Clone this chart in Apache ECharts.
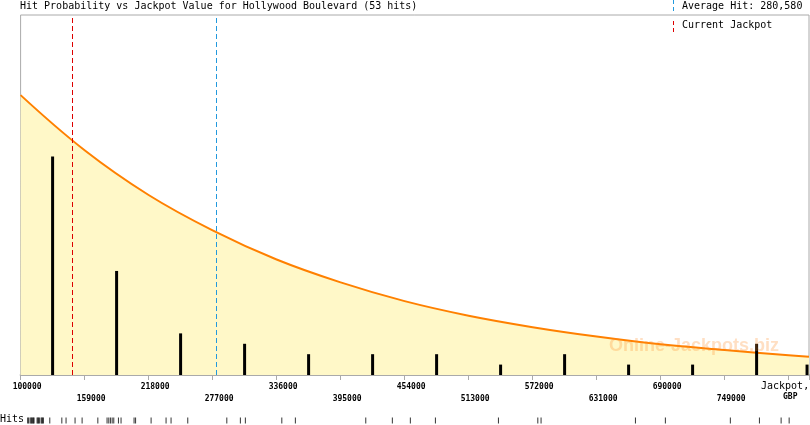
<!DOCTYPE html>
<html>
<head>
<meta charset="utf-8">
<script src="https://cdn.jsdelivr.net/npm/echarts@6/dist/echarts.min.js"></script>
<style>html,body{margin:0;padding:0;background:#fff;}#c{width:810px;height:425px;}</style>
</head>
<body>
<div id="c"></div>
<script>
// ---- data ----
var titleText = 'Hit Probability vs Jackpot Value for Hollywood Boulevard (53 hits)';
var averageHit = 280580;
var currentJackpot = 147800;
var tickStart = 100000;
var tickStep = 59000;
var axisMax = 826800;

// histogram bins (bar centre value) and number of hits per bin
var binCenters = [129500, 188500, 247500, 306500, 365500, 424500, 483500, 542500, 601500, 660500, 719500, 778500, 825000];
var hitCounts  = [21, 10, 4, 3, 2, 2, 2, 1, 2, 1, 1, 3, 1];

// probability curve (in bar units) read at tick positions
var curveX = [100000, 159000, 218000, 277000, 336000, 395000, 454000, 513000, 572000, 631000, 690000, 749000, 808000, 826800];
var curveY = [26.9, 21.6, 17.3, 13.9, 11.1, 8.9, 7.1, 5.7, 4.6, 3.7, 2.95, 2.4, 1.9, 1.75];

// individual hit values (rug)
var hitValues = [106500, 107400, 108800, 109700, 110300, 111100, 111800, 112400, 115200, 115900, 116600, 117300, 118900, 119600, 120300, 121000, 126900, 138000, 141900, 150200, 156700,
  171200, 179700, 181300, 182800, 184400, 185900, 190200, 192600, 204600, 206000,
  220300, 234100, 238700, 254100,
  290100, 302600, 307200,
  340800, 353300,
  418200, 442700,
  459300, 482400,
  540500,
  576800, 579800,
  666800,
  694400,
  754300, 781100, 801100,
  808500];

var chart = echarts.init(document.getElementById('c'), null, {renderer: 'canvas'});
var mono = 'DejaVu Sans Mono';
var gridLeft = 20.6;

function dashMarks(x, y0, y1, color) {
  var out = [];
  for (var y = y0; y < y1; y += 7) {
    out.push({type: 'rect', z: 100, shape: {x: x, y: y, width: 1, height: Math.min(4, y1 - y)}, style: {fill: color}});
  }
  return out;
}

var graphics = [
  {type: 'text', left: 20, top: 1, z: 100, style: {text: titleText, font: '10px ' + mono, fill: '#000'}},
  {type: 'text', left: 682, top: 1, z: 100, style: {text: 'Average Hit: 280,580', font: '10px ' + mono, fill: '#000'}},
  {type: 'text', left: 682, top: 20, z: 100, style: {text: 'Current Jackpot', font: '10px ' + mono, fill: '#000'}},
  {type: 'text', left: 761, top: 381, z: 100, style: {text: 'Jackpot,', font: '10px ' + mono, fill: '#000'}},
  {type: 'text', left: 783, top: 393, z: 100, style: {text: 'GBP', font: 'bold 8px ' + mono, fill: '#000'}},
  {type: 'text', left: 0, top: 414, z: 100, style: {text: 'Hits', font: '10px ' + mono, fill: '#000'}},
  {type: 'text', left: 609, top: 337, z: 100, style: {text: 'Online-Jackpots.biz', font: 'bold 18px "Liberation Sans"', fill: 'rgba(255,140,40,0.28)'}}
].concat(dashMarks(673, 0, 13, '#2299dd')).concat(dashMarks(673, 21, 33, '#dd0000'));

var option = {
  animation: false,
  backgroundColor: '#ffffff',
  grid: [
    {left: gridLeft, top: 15, right: 1, bottom: 50, show: true, borderColor: '#aaaaaa', borderWidth: 1, backgroundColor: 'transparent', containLabel: false, outerBoundsMode: 'none'},
    {left: gridLeft, top: 417, right: 1, height: 7, show: false, containLabel: false, outerBoundsMode: 'none'}
  ],
  xAxis: [
    {
      type: 'value', gridIndex: 0, min: tickStart, max: axisMax, interval: tickStep,
      axisLine: {show: true, lineStyle: {color: '#aaaaaa', width: 2}},
      axisTick: {show: true, length: 5, lineStyle: {color: '#aaaaaa', width: 1}},
      splitLine: {show: false},
      axisLabel: {
        show: true, margin: 6, fontFamily: mono, fontSize: 8, fontWeight: 'bold', color: '#000', lineHeight: 12,
        padding: [0, 0, 0, 13],
        showMaxLabel: true, showMinLabel: true,
        formatter: function (v) {
          var k = (v - tickStart) / tickStep;
          if (Math.abs(k - Math.round(k)) > 1e-6) return '';
          k = Math.round(k);
          if (k >= 12) return '';
          return (k % 2 === 1) ? '\n' + v : String(v);
        }
      }
    },
    {type: 'value', gridIndex: 1, min: tickStart, max: axisMax, show: false}
  ],
  yAxis: [
    {type: 'value', gridIndex: 0, min: 0, max: 34.6, show: false},
    {type: 'value', gridIndex: 1, min: 0, max: 1, show: false}
  ],
  series: [
    {
      type: 'line', xAxisIndex: 0, yAxisIndex: 0,
      data: curveX.map(function (x, i) { return [x, curveY[i]]; }),
      smooth: 0.4, symbol: 'none', z: 1,
      lineStyle: {color: '#ff8000', width: 2},
      areaStyle: {color: '#fff8c8', opacity: 1},
      markLine: {
        silent: true, symbol: 'none', label: {show: false},
        data: [
          {xAxis: currentJackpot, lineStyle: {color: '#dd0000', type: [5, 3], width: 1}},
          {xAxis: averageHit, lineStyle: {color: '#2299dd', type: [5, 3], width: 1}}
        ]
      }
    },
    {
      type: 'bar', xAxisIndex: 0, yAxisIndex: 0, barWidth: 3, z: 3,
      data: binCenters.map(function (x, i) { return [x, hitCounts[i]]; }),
      itemStyle: {color: '#000000'}
    },
    {
      type: 'scatter', xAxisIndex: 1, yAxisIndex: 1,
      symbol: 'rect', symbolSize: [1, 6],
      data: hitValues.map(function (v) { return [v, 0.5]; }),
      itemStyle: {color: '#000000'}
    }
  ],
  graphic: graphics
};
chart.setOption(option);
</script>
</body>
</html>
